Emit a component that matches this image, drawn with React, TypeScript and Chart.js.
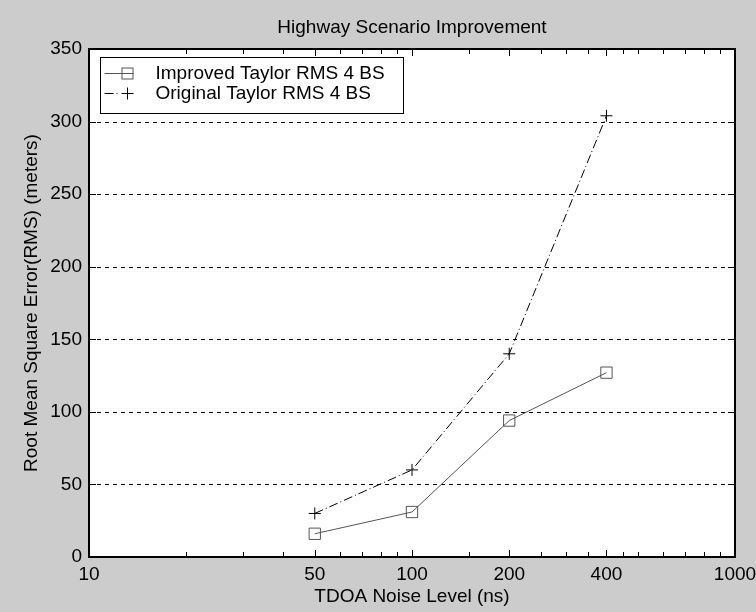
import React, { useEffect, useRef } from 'react';
import { Chart, registerables } from 'chart.js';

Chart.register(...registerables);

const chartTitle = 'Highway Scenario Improvement';
const xAxisTitle = 'TDOA Noise Level (ns)';
const yAxisTitle = 'Root Mean Square Error(RMS) (meters)';

const noiseLevels = [50, 100, 200, 400];
const improvedRms = [16, 31, 94, 127];
const originalRms = [30, 60, 140, 304];
const improvedLabel = 'Improved Taylor RMS 4 BS';
const originalLabel = 'Original Taylor RMS 4 BS';

const xTickLabels = [10, 50, 100, 200, 400, 1000];
const xMinorTicks = [20, 30, 40, 60, 70, 80, 90, 150, 250, 300, 350, 450, 500, 600, 700, 800, 900];
const yTickLabels = [0, 50, 100, 150, 200, 250, 300, 350];

const FONT = '"Liberation Sans", Arial, Helvetica, sans-serif';
const BG = '#cccccc';
const IMPROVED_COLOR = '#555555';
const ORIGINAL_COLOR = '#000000';
const ORIGINAL_DASH = [9, 3, 1, 3];

const framePlugin = {
  id: 'matlabFrame',
  beforeDraw(chart: any) {
    const { ctx, chartArea: a } = chart;
    ctx.save();
    ctx.fillStyle = '#ffffff';
    ctx.fillRect(a.left, a.top, a.right - a.left, a.bottom - a.top);
    ctx.restore();
  },
  beforeDatasetsDraw(chart: any) {
    const { ctx, chartArea: a, scales } = chart;
    const y = scales.y;
    ctx.save();
    ctx.strokeStyle = '#000';
    ctx.lineWidth = 1;
    ctx.setLineDash([4, 4]);
    yTickLabels.forEach((v) => {
      if (v <= 0 || v >= 350) return;
      const py = Math.round(y.getPixelForValue(v)) + 0.5;
      ctx.beginPath();
      ctx.moveTo(a.left, py);
      ctx.lineTo(a.right, py);
      ctx.stroke();
    });
    ctx.restore();
  },
  afterDraw(chart: any) {
    const { ctx, chartArea: a, scales } = chart;
    const x = scales.x;
    const y = scales.y;
    ctx.save();
    ctx.setLineDash([]);
    ctx.strokeStyle = '#000';
    ctx.lineWidth = 1;
    // x ticks (bottom and top, inward)
    const drawXTick = (v: number, len: number) => {
      const px = Math.round(x.getPixelForValue(v)) + 0.5;
      ctx.beginPath();
      ctx.moveTo(px, a.bottom);
      ctx.lineTo(px, a.bottom - len);
      ctx.moveTo(px, a.top);
      ctx.lineTo(px, a.top + len);
      ctx.stroke();
    };
    xTickLabels.forEach((v) => drawXTick(v, 7));
    xMinorTicks.forEach((v) => drawXTick(v, 5));
    // y ticks (left and right, inward)
    yTickLabels.forEach((v) => {
      const py = Math.round(y.getPixelForValue(v)) + 0.5;
      ctx.beginPath();
      ctx.moveTo(a.left, py);
      ctx.lineTo(a.left + 7, py);
      ctx.moveTo(a.right, py);
      ctx.lineTo(a.right - 7, py);
      ctx.stroke();
    });
    // frame
    ctx.lineWidth = 2;
    ctx.strokeRect(a.left, a.top, a.right - a.left, a.bottom - a.top);

    // titles
    ctx.fillStyle = '#000';
    ctx.font = `19px ${FONT}`;
    ctx.textAlign = 'center';
    ctx.textBaseline = 'middle';
    const cx = (a.left + a.right) / 2;
    ctx.fillText(chartTitle, cx, a.top - 21);
    ctx.fillText(xAxisTitle, cx, a.bottom + 40);
    ctx.save();
    ctx.translate(32, (a.top + a.bottom) / 2);
    ctx.rotate(-Math.PI / 2);
    ctx.fillText(yAxisTitle, 0, 0);
    ctx.restore();

    // legend
    const lx = a.left + 11.5;
    const ly = a.top + 8.5;
    const lw = 303;
    const lh = 56;
    ctx.fillStyle = '#fff';
    ctx.fillRect(lx, ly, lw, lh);
    ctx.strokeStyle = '#000';
    ctx.lineWidth = 1;
    ctx.strokeRect(lx, ly, lw, lh);

    const r1 = ly + 16;
    const r2 = ly + 36;
    const sx = lx + 4;
    const mx = lx + 27;
    // row 1: improved
    ctx.strokeStyle = IMPROVED_COLOR;
    ctx.beginPath();
    ctx.moveTo(sx, r1);
    ctx.lineTo(mx + 6, r1);
    ctx.stroke();
    ctx.strokeRect(mx - 5.5, r1 - 5.5, 11, 11);
    // row 2: original
    ctx.strokeStyle = ORIGINAL_COLOR;
    ctx.setLineDash(ORIGINAL_DASH);
    ctx.beginPath();
    ctx.moveTo(sx, r2);
    ctx.lineTo(mx - 7, r2);
    ctx.stroke();
    ctx.setLineDash([]);
    ctx.beginPath();
    ctx.moveTo(mx - 6, r2);
    ctx.lineTo(mx + 6, r2);
    ctx.moveTo(mx, r2 - 6);
    ctx.lineTo(mx, r2 + 6);
    ctx.stroke();

    ctx.fillStyle = '#000';
    ctx.textAlign = 'left';
    ctx.textBaseline = 'middle';
    ctx.fillText(improvedLabel, lx + 55, r1);
    ctx.fillText(originalLabel, lx + 55, r2);
    ctx.restore();
  },
};

export default function App() {
  const canvasRef = useRef<HTMLCanvasElement | null>(null);

  useEffect(() => {
    document.body.style.margin = '0';
    const canvas = canvasRef.current;
    if (!canvas) return;
    const chart = new Chart(canvas, {
      type: 'line',
      data: {
        datasets: [
          {
            label: improvedLabel,
            data: noiseLevels.map((n, i) => ({ x: n, y: improvedRms[i] })),
            borderColor: IMPROVED_COLOR,
            borderWidth: 1,
            pointStyle: 'rect',
            pointRadius: 8,
            pointBorderWidth: 1,
            pointBorderColor: IMPROVED_COLOR,
            pointBackgroundColor: 'rgba(0,0,0,0)',
            tension: 0,
            fill: false,
          },
          {
            label: originalLabel,
            data: noiseLevels.map((n, i) => ({ x: n, y: originalRms[i] })),
            borderColor: ORIGINAL_COLOR,
            borderWidth: 1,
            borderDash: ORIGINAL_DASH,
            pointStyle: 'cross',
            pointRadius: 6,
            pointBorderWidth: 1,
            pointBorderColor: ORIGINAL_COLOR,
            pointBackgroundColor: 'rgba(0,0,0,0)',
            tension: 0,
            fill: false,
          },
        ],
      },
      options: {
        animation: false,
        responsive: false,
        devicePixelRatio: 1,
        events: [],
        layout: { padding: { top: 49, right: 21, left: 0, bottom: 0 } },
        plugins: {
          legend: { display: false },
          title: { display: false },
          tooltip: { enabled: false },
        },
        scales: {
          x: {
            type: 'logarithmic',
            min: 10,
            max: 1000,
            grid: { display: false, drawTicks: false },
            border: { display: false },
            afterBuildTicks: (scale: any) => {
              scale.ticks = xTickLabels.map((v) => ({ value: v }));
            },
            afterFit: (scale: any) => {
              scale.height = 55;
              scale.paddingLeft = 0;
              scale.paddingRight = 0;
            },
            ticks: {
              autoSkip: false,
              maxRotation: 0,
              minRotation: 0,
              padding: 6,
              color: '#000',
              font: { family: FONT, size: 19 },
              callback: (v: any) => String(v),
            },
          },
          y: {
            min: 0,
            max: 350,
            grid: { display: false, drawTicks: false },
            border: { display: false },
            afterBuildTicks: (scale: any) => {
              scale.ticks = yTickLabels.map((v) => ({ value: v }));
            },
            afterFit: (scale: any) => {
              scale.width = 89;
              scale.paddingTop = 0;
              scale.paddingBottom = 0;
            },
            ticks: {
              padding: 7,
              color: '#000',
              font: { family: FONT, size: 19 },
              callback: (v: any) => String(v),
            },
          },
        },
      },
      plugins: [framePlugin],
    } as any);
    return () => chart.destroy();
  }, []);

  return (
    <div style={{ position: 'absolute', left: 0, top: 0, width: 756, height: 612, background: BG }}>
      <canvas ref={canvasRef} width={756} height={612} style={{ display: 'block', width: 756, height: 612 }} />
    </div>
  );
}
